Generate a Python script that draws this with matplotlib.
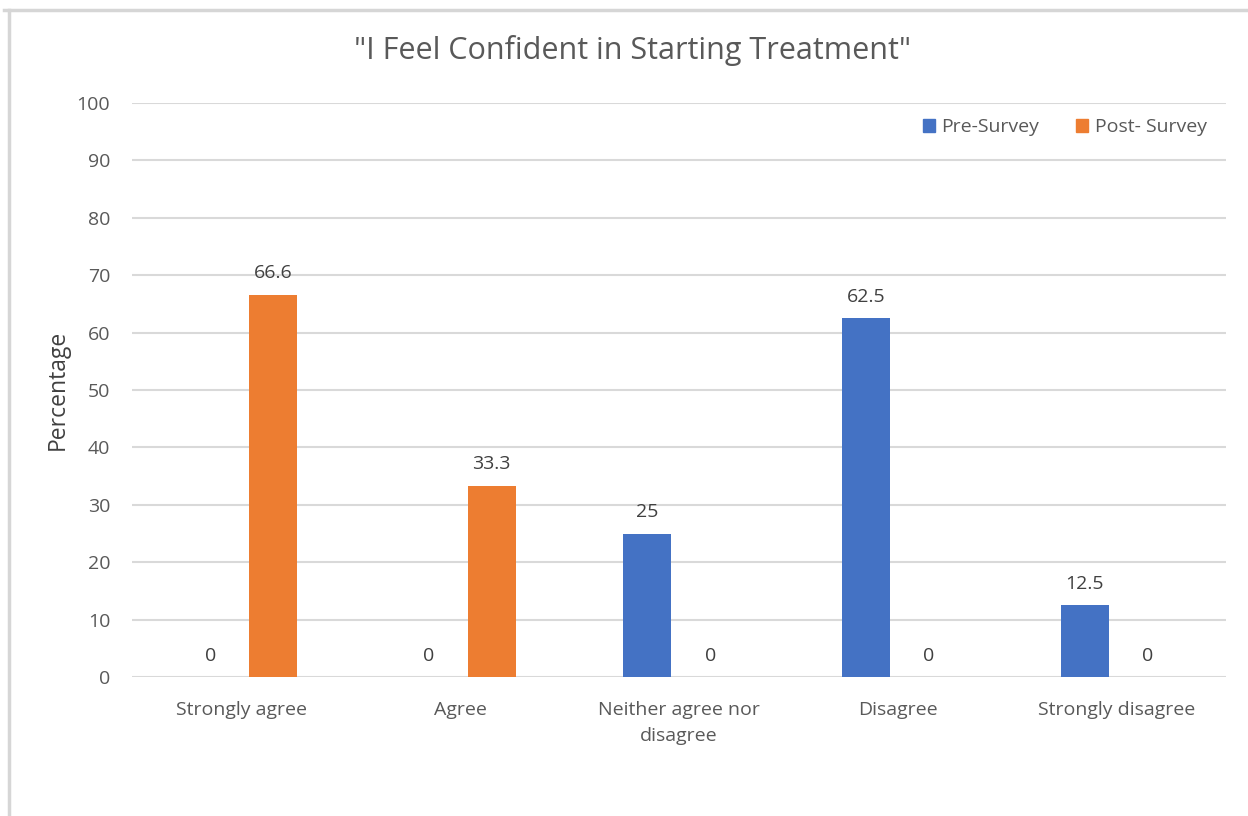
import numpy as np
import matplotlib
matplotlib.use("Agg")
import matplotlib.pyplot as plt
from matplotlib.lines import Line2D
from matplotlib.patches import Patch

categories = ["Strongly agree", "Agree", "Neither agree nor\ndisagree", "Disagree", "Strongly disagree"]
pre_survey = [0, 0, 25, 62.5, 12.5]
post_survey = [66.6, 33.3, 0, 0, 0]
series_names = ["Pre-Survey", "Post- Survey"]

BLUE = "#4472C4"
ORANGE = "#ED7D31"
GRID = "#D9D9D9"
TEXT = "#595959"
LABEL = "#404040"

plt.rcParams["font.family"] = ["Open Sans", "DejaVu Sans"]

fig = plt.figure(figsize=(12.48, 8.16), dpi=100)
ax = fig.add_axes([0.106, 0.170, 0.876, 0.704])

x = np.arange(len(categories))
width = 0.22
offset = 0.144

b1 = ax.bar(x - offset, pre_survey, width, color=BLUE, zorder=3)
b2 = ax.bar(x + offset, post_survey, width, color=ORANGE, zorder=3)

for bars, vals in ((b1, pre_survey), (b2, post_survey)):
    for rect, v in zip(bars, vals):
        ax.annotate(f"{v:g}", (rect.get_x() + rect.get_width() / 2, v),
                    xytext=(0, 15.5), textcoords="offset points",
                    ha="center", va="center", fontsize=14, color=LABEL)

ax.set_xlim(-0.5, len(categories) - 0.5)
ax.set_ylim(0, 100)
ax.set_yticks(np.arange(0, 101, 10))
ax.set_xticks(x)
ax.set_xticklabels(categories, fontsize=14, color=TEXT, linespacing=1.55)
ax.tick_params(axis="y", labelsize=14, labelcolor=TEXT, length=0, pad=16)
ax.tick_params(axis="x", length=0, pad=17)
ax.yaxis.grid(True, color=GRID, linewidth=1.5, zorder=0)
for s in ax.spines.values():
    s.set_visible(False)
ax.set_ylabel("Percentage", fontsize=16.5, color=LABEL, labelpad=5)

fig.text(0.507, 0.938, '"I Feel Confident in Starting Treatment"',
         ha="center", va="center", fontsize=22, color=TEXT)

handles = [Patch(color=BLUE), Patch(color=ORANGE)]
fig.legend(handles, series_names, loc="center right", bbox_to_anchor=(0.981, 0.844),
           ncol=2, frameon=False, fontsize=14, labelcolor=TEXT,
           handlelength=0.6, handleheight=0.6, handletextpad=0.35, columnspacing=1.9)

# light outer frame
fig.add_artist(Line2D([0.003, 1.0], [0.988, 0.988], color="#D6D6D6", lw=2.5))
fig.add_artist(Line2D([0.007, 0.007], [0.0, 0.988], color="#D6D6D6", lw=2.5))

fig.savefig("out.png", dpi=100)
